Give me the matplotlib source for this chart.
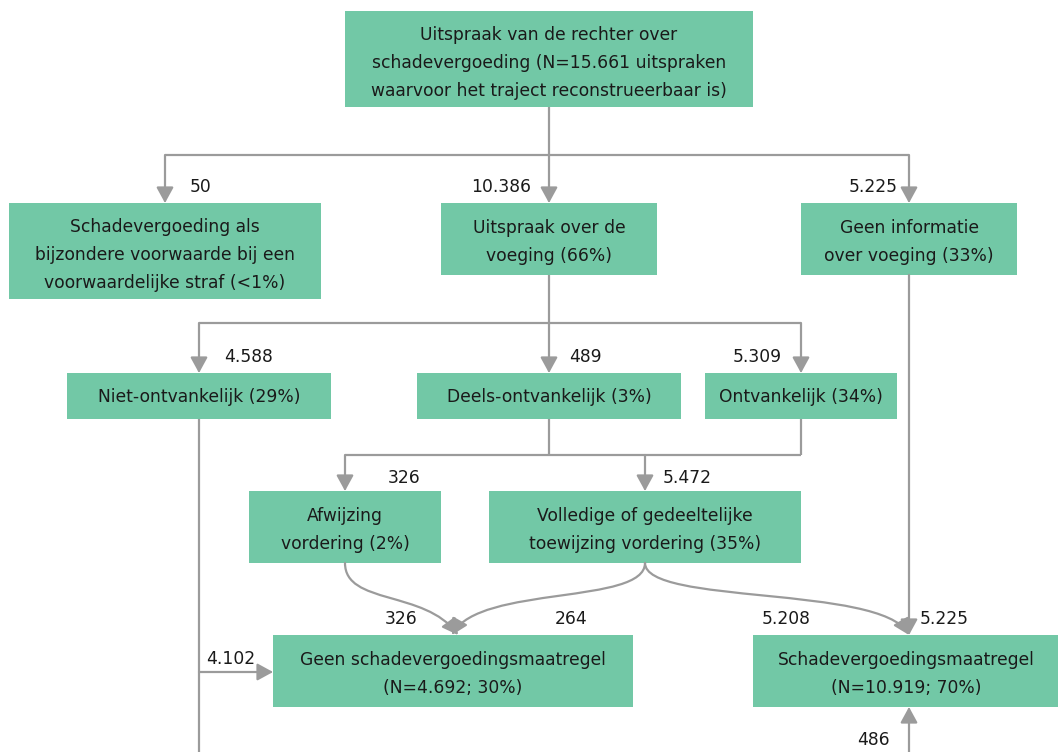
import matplotlib
matplotlib.use("Agg")
import matplotlib.pyplot as plt
from matplotlib.patches import Rectangle, FancyArrowPatch
from matplotlib.path import Path

# ---- data ----
node_labels = [
    "Uitspraak van de rechter over\nschadevergoeding (N=15.661 uitspraken\nwaarvoor het traject reconstrueerbaar is)",
    "Schadevergoeding als\nbijzondere voorwaarde bij een\nvoorwaardelijke straf (<1%)",
    "Uitspraak over de\nvoeging (66%)",
    "Geen informatie\nover voeging (33%)",
    "Niet-ontvankelijk (29%)",
    "Deels-ontvankelijk (3%)",
    "Ontvankelijk (34%)",
    "Afwijzing\nvordering (2%)",
    "Volledige of gedeeltelijke\ntoewijzing vordering (35%)",
    "Geen schadevergoedingsmaatregel\n(N=4.692; 30%)",
    "Schadevergoedingsmaatregel\n(N=10.919; 70%)",
]
edge_counts = [50, 10386, 5225, 4588, 489, 5309, 326, 5472, 326, 264, 5208, 5225, 4102, 486]

# ---- layout (pixel coordinates: x0, y0, x1, y1) ----
boxes = [
    (345, 11, 753, 107),
    (9, 203, 321, 299),
    (441, 203, 657, 275),
    (801, 203, 1017, 275),
    (67, 373, 331, 419),
    (417, 373, 681, 419),
    (705, 373, 897, 419),
    (249, 491, 441, 563),
    (489, 491, 801, 563),
    (273, 635, 633, 707),
    (753, 635, 1060, 707),
]

GREEN = "#72c8a6"
GRAY = "#9b9b9b"
TXT = "#1a1a1a"
FS = 12.3
LW = 1.6

fig = plt.figure(figsize=(10.58, 7.52), dpi=100)
ax = fig.add_axes([0, 0, 1, 1])
ax.set_xlim(0, 1058)
ax.set_ylim(752, 0)
ax.axis("off")

for (x0, y0, x1, y1), lab in zip(boxes, node_labels):
    nlines = lab.count("\n") + 1
    off = {1: 1, 2: 3, 3: 4}[nlines]
    ax.add_patch(Rectangle((x0, y0), x1 - x0, y1 - y0, facecolor=GREEN, edgecolor="none", zorder=1))
    ax.text((x0 + x1) / 2, (y0 + y1) / 2 + off, lab, ha="center", va="center",
            fontsize=FS, color=TXT, linespacing=1.72, zorder=3)


def line(xs, ys):
    ax.plot(xs, ys, color=GRAY, lw=LW, solid_capstyle="butt", zorder=2)


def arrow(verts, codes=None):
    if codes is None:
        codes = [Path.MOVETO] + [Path.LINETO] * (len(verts) - 1)
    p = FancyArrowPatch(path=Path(verts, codes),
                        arrowstyle="-|>,head_length=9.5,head_width=5.2",
                        mutation_scale=1, color=GRAY, lw=LW, shrinkA=0, shrinkB=0,
                        zorder=2)
    ax.add_patch(p)


def fmt(n):
    return f"{n:,}".replace(",", ".")


def num(x, y, n, ha="left"):
    ax.text(x, y, fmt(n), ha=ha, va="center", fontsize=FS, color=TXT, zorder=3)


# level 1
line([549, 549], [107, 155])
line([165, 909], [155, 155])
arrow([(165, 155), (165, 203)])
arrow([(549, 155), (549, 203)])
arrow([(909, 155), (909, 203)])
num(190, 187, edge_counts[0])
num(531, 187, edge_counts[1], ha="right")
num(898, 187, edge_counts[2], ha="right")

# level 2
line([549, 549], [275, 323])
line([199, 801], [323, 323])
arrow([(199, 323), (199, 373)])
arrow([(549, 323), (549, 373)])
arrow([(801, 323), (801, 373)])
num(224, 357, edge_counts[3])
num(569, 357, edge_counts[4])
num(782, 357, edge_counts[5], ha="right")

# level 3
line([549, 549], [419, 455])
line([801, 801], [419, 455])
line([345, 801], [455, 455])
arrow([(345, 455), (345, 491)])
arrow([(645, 455), (645, 491)])
num(388, 478, edge_counts[6])
num(663, 478, edge_counts[7])

# curves to final boxes
C = [Path.MOVETO, Path.CURVE4, Path.CURVE4, Path.CURVE4]
arrow([(345, 563), (345, 605), (425, 590), (458, 635)], C)
arrow([(645, 563), (645, 605), (480, 585), (452, 635)], C)
arrow([(645, 563), (645, 605), (880, 585), (909, 635)], C)
num(385, 619, edge_counts[8])
num(555, 619, edge_counts[9])
num(762, 619, edge_counts[10])

# Geen informatie straight down
arrow([(909, 275), (909, 635)])
num(920, 619, edge_counts[11])

# Niet-ontvankelijk down and into Geen schadevergoedingsmaatregel
line([199, 199], [419, 760])
arrow([(199, 672), (273, 672)])
num(206, 659, edge_counts[12])

# from below up into Schadevergoedingsmaatregel
arrow([(909, 760), (909, 707)])
num(890, 740, edge_counts[13], ha="right")

fig.savefig("out.png", dpi=100)
